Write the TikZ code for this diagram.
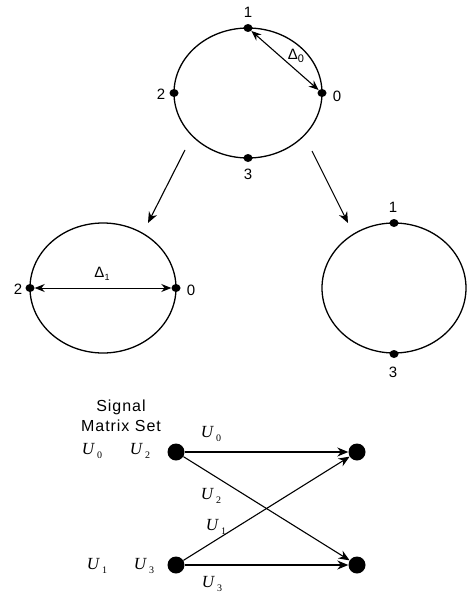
\documentclass[tikz,border=0pt]{standalone}
\usepackage{fontspec}
\setmainfont{Liberation Sans}
\newfontfamily\uf{Liberation Serif}
\usetikzlibrary{arrows.meta,shapes.geometric}
\newcommand{\usub}[1]{U\,\raisebox{-4pt}{\fontsize{10}{10}\selectfont\upshape #1}}
\begin{document}
\begin{tikzpicture}[x=1pt,y=-1pt,
  ring/.style={draw,line width=1.3pt},
  sdot/.style={ellipse,fill=black,inner sep=0pt,minimum width=9pt,minimum height=8pt},
  bdot/.style={circle,fill=black,inner sep=0pt,minimum size=17pt},
  lbl/.style={font=\fontsize{15}{17}\selectfont,inner sep=0pt},
  ulbl/.style={font=\uf\fontsize{17}{19}\selectfont\itshape,inner sep=0pt},
  dbl/.style={{Stealth[length=10pt,width=8pt]}-{Stealth[length=10pt,width=8pt]},line width=1.1pt},
  arr/.style={-{Stealth[length=11pt,width=9pt]},line width=1.1pt}]
\useasboundingbox (0,0) rectangle (470,594);
% top ellipse
\draw[ring] (248,93) ellipse [x radius=74, y radius=65];
\node[sdot] (t1) at (248,28) {};
\node[sdot] (t2) at (174,93) {};
\node[sdot] (t0) at (322,93) {};
\node[sdot] (t3) at (248,158) {};
\node[lbl] at (248,12) {1};
\node[lbl] at (161,94) {2};
\node[lbl] at (337,96) {0};
\node[lbl] at (248,174) {3};
\draw[dbl] (t1) -- (t0);
\node[lbl] at (296,56) {Δ\raisebox{-3pt}{\fontsize{11}{11}\selectfont 0}};
% arrows down
\coordinate (la) at (185,150);
\coordinate (lb) at (148,223);
\coordinate (ra) at (312,151);
\coordinate (rb) at (348,223);
\draw[arr] (la) -- (lb);
\draw[arr] (ra) -- (rb);
% left ellipse
\draw[ring] (103,288) ellipse [x radius=73, y radius=65];
\node[sdot] (l2) at (30,288) {};
\node[sdot] (l0) at (176,288) {};
\node[lbl] at (18,289) {2};
\node[lbl] at (191,290) {0};
\draw[dbl,line width=0.8pt] (l2) -- (l0);
\node[lbl] at (102,274) {Δ\raisebox{-3pt}{\fontsize{9}{9}\selectfont 1}};
% right ellipse
\draw[ring] (394,288) ellipse [x radius=72, y radius=65];
\node[sdot] (r1) at (394,223) {};
\node[sdot] (r3) at (394,354) {};
\node[lbl] at (393,207) {1};
\node[lbl] at (393,372) {3};
% bipartite
\node[font=\fontsize{16}{18}\selectfont\addfontfeature{LetterSpace=6},align=center,inner sep=0pt] at (121,416) {Signal\\[2pt]Matrix Set};
\node[ulbl] at (92,451) {\usub{0}};
\node[ulbl] at (140,451) {\usub{2}};
\node[ulbl] at (97,566) {\usub{1}};
\node[ulbl] at (144,566) {\usub{3}};
\node[bdot] (a) at (176,452) {};
\node[bdot] (b) at (176,565) {};
\node[bdot] (c) at (357,452) {};
\node[bdot] (d) at (357,565) {};
\draw[arr] (a) -- (c);
\draw[arr] (a) -- (d);
\draw[arr] (b) -- (c);
\draw[arr] (b) -- (d);
\node[ulbl] at (211,434) {\usub{0}};
\node[ulbl] at (211,496) {\usub{2}};
\node[ulbl] at (216,527) {\usub{1}};
\node[ulbl] at (212,584) {\usub{3}};
\end{tikzpicture}
\end{document}
